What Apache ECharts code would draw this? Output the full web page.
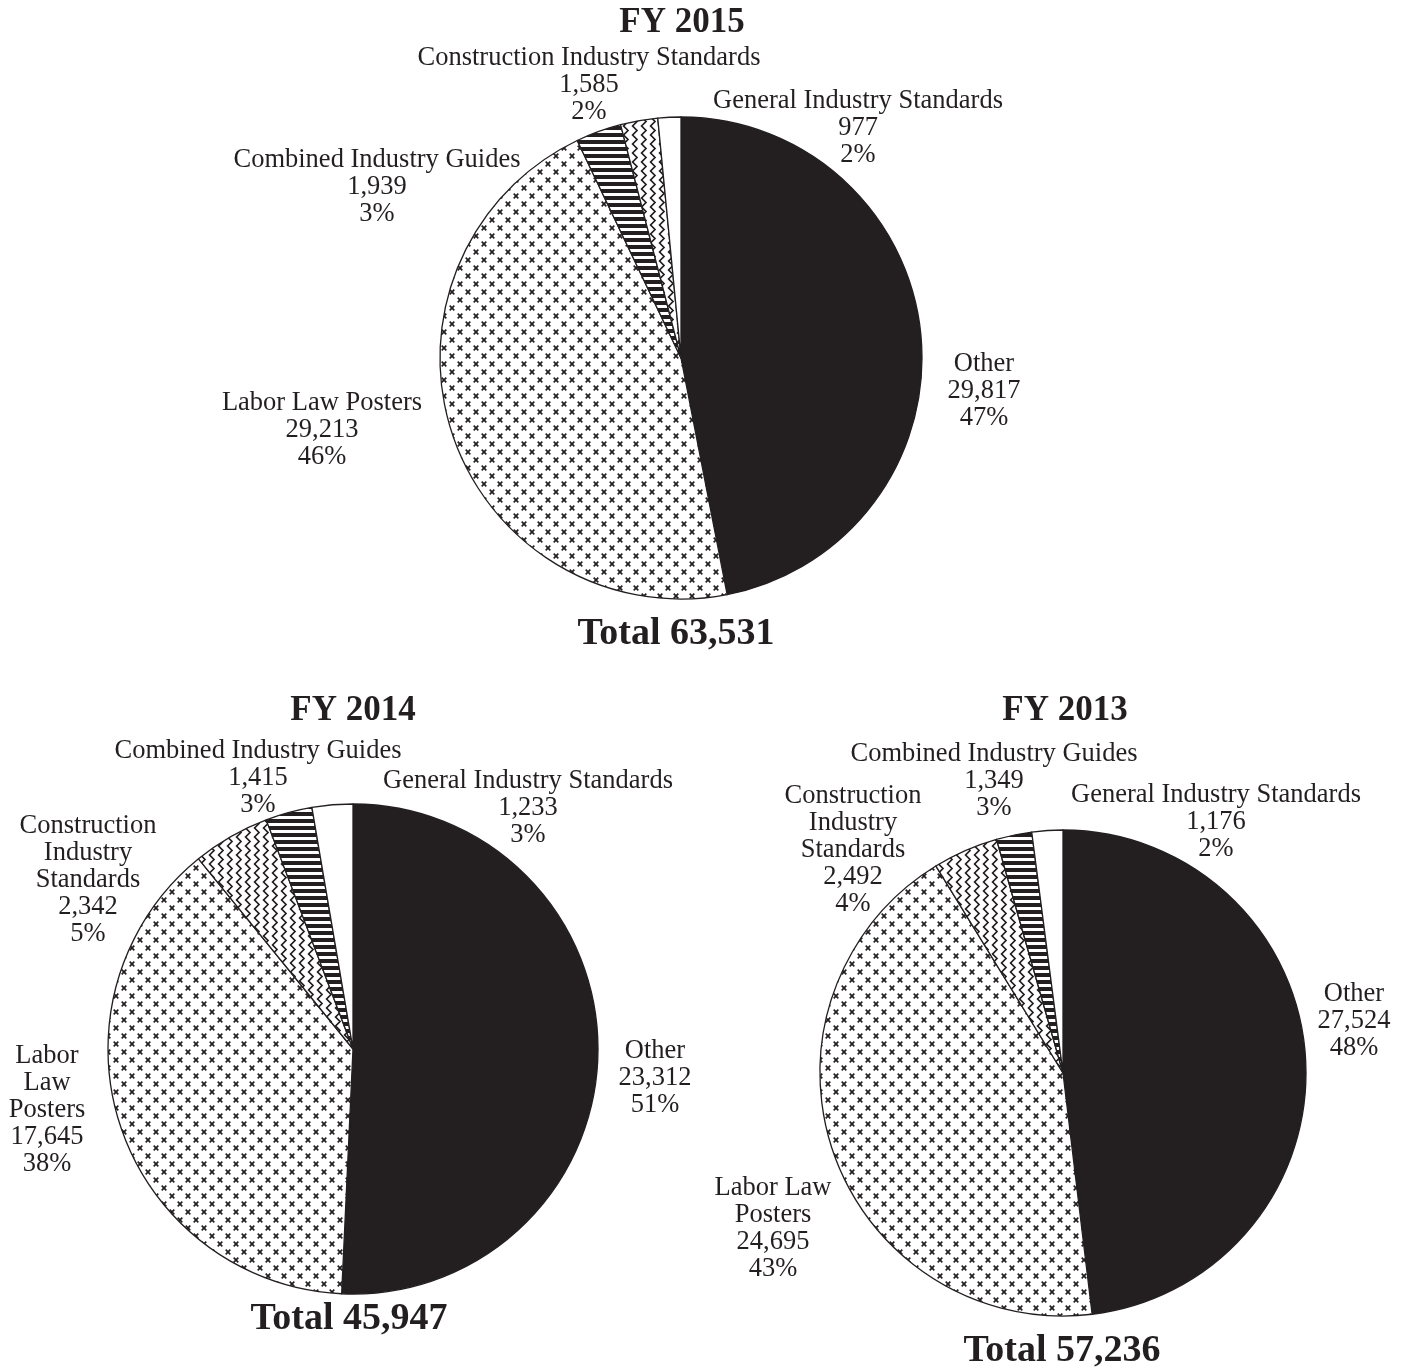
<!DOCTYPE html>
<html><head><meta charset="utf-8">
<script src="https://cdn.jsdelivr.net/npm/echarts@6/dist/echarts.min.js"></script>
<style>html,body{margin:0;padding:0;background:#fff}#c{width:1407px;height:1368px}</style>
</head><body><div id="c"></div><script>
// ---- data ----
const categories = ['Other', 'Labor Law Posters', 'Combined Industry Guides', 'Construction Industry Standards', 'General Industry Standards'];
const years = ['FY 2015', 'FY 2014', 'FY 2013'];
const values2015 = [29817, 29213, 1939, 1585, 977];
const values2014 = [23312, 17645, 1415, 2342, 1233];
const values2013 = [27524, 24695, 1349, 2492, 1176];
// label text wrapping per year
const labelNames2015 = ['Other', 'Labor Law Posters', 'Combined Industry Guides', 'Construction Industry Standards', 'General Industry Standards'];
const labelNames2014 = ['Other', 'Labor\nLaw\nPosters', 'Combined Industry Guides', 'Construction\nIndustry\nStandards', 'General Industry Standards'];
const labelNames2013 = ['Other', 'Labor Law\nPosters', 'Combined Industry Guides', 'Construction\nIndustry\nStandards', 'General Industry Standards'];

// ---- layout (not data) ----
const INK = '#231f20';
const pieLayout = [
  { center: [681, 358], radius: 241, titleX: 682, titleTop: 5, totalX: 676, totalTop: 615 },
  { center: [353, 1049], radius: 245, titleX: 353, titleTop: 693, totalX: 349, totalTop: 1300 },
  { center: [1063, 1073], radius: 243, titleX: 1065, titleTop: 693, totalX: 1062, totalTop: 1332 }
];
// label block centres, by category index
const labelPos = [
  [[984, 391], [322, 430], [377, 187], [589, 85], [858, 128]],
  [[655, 1078], [47, 1110], [258, 778], [88, 880], [528, 808]],
  [[1354, 1021], [773, 1229], [994, 781], [853, 850], [1216, 822]]
];

// ---- patterns ----
function tile(w, h, draw) {
  const c = document.createElement('canvas');
  c.width = w; c.height = h;
  const ctx = c.getContext('2d');
  ctx.fillStyle = '#fff'; ctx.fillRect(0, 0, w, h);
  draw(ctx);
  return { image: c, repeat: 'repeat' };
}
const crossPattern = tile(16, 16, ctx => {
  ctx.strokeStyle = INK; ctx.lineWidth = 1.7;
  [[4, 4], [12, 12]].forEach(([x, y]) => {
    ctx.beginPath();
    ctx.moveTo(x - 2.3, y - 2.3); ctx.lineTo(x + 2.3, y + 2.3);
    ctx.moveTo(x + 2.3, y - 2.3); ctx.lineTo(x - 2.3, y + 2.3);
    ctx.stroke();
  });
});
const stripePattern = tile(8, 7, ctx => {
  ctx.fillStyle = INK; ctx.fillRect(0, 0, 8, 4);
});
const zigzagPattern = tile(9, 9, ctx => {
  ctx.strokeStyle = INK; ctx.lineWidth = 1.7;
  ctx.beginPath();
  ctx.moveTo(2, -0.5); ctx.lineTo(7, 4.5); ctx.lineTo(2, 9.5);
  ctx.stroke();
});
const fills = [INK, crossPattern, stripePattern, zigzagPattern, '#fff'];

const allValues = [values2015, values2014, values2013];
const allLabelNames = [labelNames2015, labelNames2014, labelNames2013];
const fmt = echarts.format.addCommas;

const series = [];
const titles = [];
allValues.forEach((vals, yi) => {
  const idx = vals.map((v, i) => i).sort((a, b) => vals[b] - vals[a]);
  const data = idx.map(i => ({
    name: categories[i],
    value: vals[i],
    catIndex: i,
    itemStyle: { color: fills[i] }
  }));
  const lay = pieLayout[yi];
  const total = vals.reduce((a, b) => a + b, 0);
  series.push({
    type: 'pie',
    center: lay.center,
    radius: lay.radius,
    startAngle: 90,
    clockwise: true,
    percentPrecision: 0,
    animation: false,
    silent: true,
    avoidLabelOverlap: false,
    data: data,
    itemStyle: { borderColor: INK, borderWidth: 1.3 },
    labelLine: { show: false },
    label: {
      show: true,
      position: 'outside',
      color: INK,
      fontFamily: 'Liberation Serif',
      fontSize: 26.5,
      lineHeight: 27,
      align: 'center',
      formatter: p => allLabelNames[yi][p.data.catIndex] + '\n' + fmt(p.value) + '\n' + p.percent + '%'
    },
    labelLayout: params => {
      const item = data[params.dataIndex];
      const pos = labelPos[yi][item.catIndex];
      return { x: pos[0], y: pos[1], align: 'center', verticalAlign: 'middle' };
    }
  });
  titles.push({
    text: years[yi], left: lay.titleX, top: lay.titleTop, textAlign: 'center', padding: 0,
    textStyle: { fontFamily: 'Liberation Serif', fontWeight: 'bold', fontSize: 35, color: INK }
  });
  titles.push({
    text: 'Total ' + fmt(total), left: lay.totalX, top: lay.totalTop, textAlign: 'center', padding: 0,
    textStyle: { fontFamily: 'Liberation Serif', fontWeight: 'bold', fontSize: 38, color: INK }
  });
});

const chart = echarts.init(document.getElementById('c'), null, { renderer: 'canvas' });
chart.setOption({
  backgroundColor: '#fff',
  animation: false,
  title: titles,
  series: series
});
</script></body></html>
